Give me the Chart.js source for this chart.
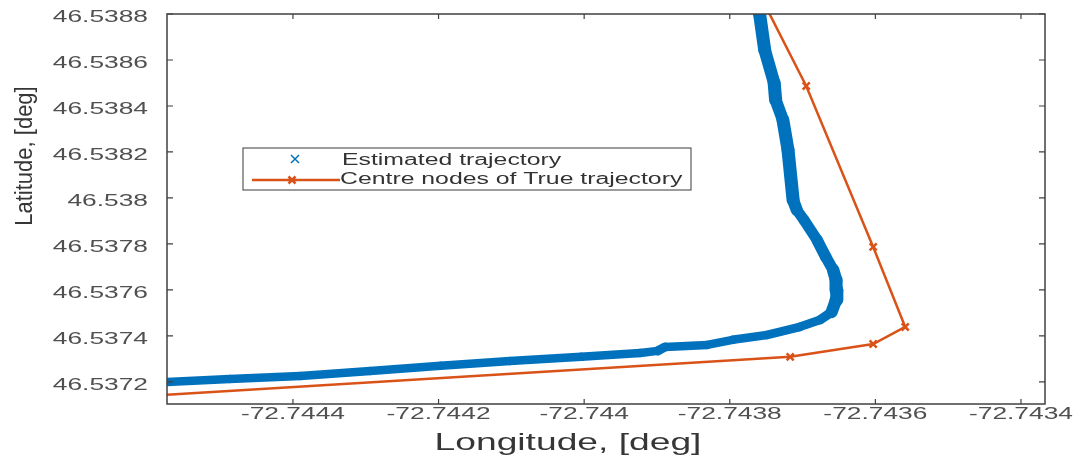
<!DOCTYPE html>
<html>
<head>
<meta charset="utf-8">
<title>Estimated trajectory vs true trajectory</title>
<script src="https://cdn.jsdelivr.net/npm/chart.js@4.4.1/dist/chart.umd.min.js"></script>
<style>
  html, body { margin: 0; padding: 0; background: #ffffff; }
  #wrap { width: 1086px; height: 464px; }
</style>
</head>
<body>
<div id="wrap"><canvas id="trajChart" width="1086" height="464"></canvas></div>
<script>
// Estimated trajectory (blue band), in degrees
const estLon = [
  -72.744573, -72.744487, -72.744390, -72.744294, -72.744197, -72.744102,
  -72.744004, -72.743923, -72.743899, -72.743889, -72.743831, -72.743796,
  -72.743749, -72.743704, -72.743676, -72.743660, -72.743654, -72.743653,
  -72.743654, -72.743658, -72.743668, -72.743680, -72.743698, -72.743708,
  -72.743713, -72.743720, -72.743727, -72.743737, -72.743739, -72.743752,
  -72.743759, -72.743763
];
const estLat = [
  46.537200, 46.537213, 46.537226, 46.537248, 46.537270, 46.537291,
  46.537309, 46.537326, 46.537335, 46.537352, 46.537361, 46.537383,
  46.537404, 46.537439, 46.537470, 46.537504, 46.537557, 46.537600,
  46.537643, 46.537687, 46.537743, 46.537817, 46.537904, 46.537948,
  46.537991, 46.538209, 46.538339, 46.538426, 46.538500, 46.538643,
  46.538800, 46.538883
];

// Centre nodes of the true trajectory (orange)
const nodeLon = [-72.743763, -72.743695, -72.743603, -72.743559, -72.743603, -72.743717, -72.744665];
const nodeLat = [46.538910, 46.538487, 46.537787, 46.537439, 46.537365, 46.537309, 46.537126];

// Axes
const xTicks = [-72.7444, -72.7442, -72.7440, -72.7438, -72.7436, -72.7434];
const xTickLabels = ['-72.7444', '-72.7442', '-72.744', '-72.7438', '-72.7436', '-72.7434'];
const yTicks = [46.5372, 46.5374, 46.5376, 46.5378, 46.5380, 46.5382, 46.5384, 46.5386, 46.5388];
const yTickLabels = ['46.5372', '46.5374', '46.5376', '46.5378', '46.538', '46.5382', '46.5384', '46.5386', '46.5388'];
const xLimits = [-72.744573, -72.743367];
const yLimits = [46.537104, 46.5388];

const seriesNames = ['Estimated trajectory', 'Centre nodes of True trajectory'];
const xTitle = 'Longitude, [deg]';
const yTitle = 'Latitude, [deg]';

const BLUE = '#0072BD';
const ORANGE = '#D95319';
const FONT = '"Liberation Sans", Arial, Helvetica, sans-serif';
const SX = 1.55; // the source figure is stretched sideways
const BAND = 8.5; // blue marker band thickness before the stretch

function toPoints(lons, lats) {
  return lons.map((lon, i) => ({ x: lon, y: lats[i] }));
}

// band of x markers gets wider where the path runs up and down
function bandWidth(seg) {
  const dx = seg.p1.x - seg.p0.x, dy = seg.p1.y - seg.p0.y;
  const len = Math.hypot(dx, dy) || 1;
  const c = dx / len, s = dy / len;
  return BAND * SX / Math.sqrt(SX * SX * c * c + s * s);
}

// text drawn with the same sideways stretch as the picture
function wideText(ctx, text, x, y, align) {
  ctx.save();
  ctx.translate(x, y);
  ctx.scale(SX, 1);
  ctx.textAlign = align;
  ctx.fillText(text, 0, 0);
  ctx.restore();
}

function drawCross(ctx, x, y, r, color, w) {
  ctx.save();
  ctx.strokeStyle = color;
  ctx.lineWidth = w;
  ctx.beginPath();
  ctx.moveTo(x - r, y - r); ctx.lineTo(x + r, y + r);
  ctx.moveTo(x - r, y + r); ctx.lineTo(x + r, y - r);
  ctx.stroke();
  ctx.restore();
}

// MATLAB style box, inward ticks, labels and legend
const matlabAxes = {
  id: 'matlabAxes',
  afterDraw(chart) {
    const { ctx, chartArea: a, scales } = chart;
    const xs = scales.x, ys = scales.y;
    ctx.save();

    ctx.strokeStyle = '#404040';
    ctx.lineWidth = 1.5;
    ctx.strokeRect(a.left, a.top, a.right - a.left, a.bottom - a.top);

    ctx.lineWidth = 1.2;
    ctx.beginPath();
    xTicks.forEach(v => {
      const px = xs.getPixelForValue(v);
      ctx.moveTo(px, a.bottom); ctx.lineTo(px, a.bottom - 5);
      ctx.moveTo(px, a.top); ctx.lineTo(px, a.top + 5);
    });
    yTicks.forEach(v => {
      const py = ys.getPixelForValue(v);
      ctx.moveTo(a.left, py); ctx.lineTo(a.left + 6, py);
      ctx.moveTo(a.right, py); ctx.lineTo(a.right - 6, py);
    });
    ctx.stroke();

    // tick labels
    ctx.fillStyle = '#505050';
    ctx.font = '17px ' + FONT;
    ctx.textBaseline = 'middle';
    xTicks.forEach((v, i) => wideText(ctx, xTickLabels[i], xs.getPixelForValue(v), a.bottom + 10, 'center'));
    yTicks.forEach((v, i) => wideText(ctx, yTickLabels[i], a.left - 19, ys.getPixelForValue(v) + 3, 'right'));

    // axis titles
    ctx.fillStyle = '#363636';
    ctx.font = '24px ' + FONT;
    wideText(ctx, xTitle, a.left + 401, a.bottom + 39, 'center');
    ctx.save();
    ctx.translate(25, 156);
    ctx.rotate(-Math.PI / 2);
    ctx.scale(1, 1.1);
    ctx.font = '22px ' + FONT;
    ctx.textAlign = 'center';
    ctx.fillText(yTitle, 0, 0);
    ctx.restore();

    // legend
    const lx = 243, ly = 148, lw = 448, lh = 42;
    ctx.fillStyle = '#ffffff';
    ctx.fillRect(lx, ly, lw, lh);
    ctx.strokeStyle = '#3a3a3a';
    ctx.lineWidth = 1;
    ctx.strokeRect(lx, ly, lw, lh);
    drawCross(ctx, lx + 52, ly + 11, 4, BLUE, 1.5);
    ctx.strokeStyle = ORANGE;
    ctx.lineWidth = 2.5;
    ctx.beginPath();
    ctx.moveTo(lx + 9, ly + 32); ctx.lineTo(lx + 97, ly + 32);
    ctx.stroke();
    drawCross(ctx, lx + 49, ly + 32, 3.5, ORANGE, 2.5);
    ctx.fillStyle = '#333333';
    ctx.font = '16px ' + FONT;
    wideText(ctx, seriesNames[0], lx + 99, ly + 13, 'left');
    wideText(ctx, seriesNames[1], lx + 97, ly + 32, 'left');

    ctx.restore();
  }
};

new Chart(document.getElementById('trajChart'), {
  type: 'scatter',
  data: {
    datasets: [
      {
        label: seriesNames[0],
        data: toPoints(estLon, estLat),
        showLine: true,
        borderColor: BLUE,
        borderWidth: BAND,
        borderJoinStyle: 'round',
        borderCapStyle: 'round',
        segment: { borderWidth: bandWidth },
        pointStyle: 'crossRot',
        pointRadius: 0,
        pointBorderColor: BLUE
      },
      {
        label: seriesNames[1],
        data: toPoints(nodeLon, nodeLat),
        showLine: true,
        borderColor: ORANGE,
        borderWidth: 2.5,
        pointStyle: 'crossRot',
        pointRadius: 5,
        pointBorderWidth: 2.5,
        pointBorderColor: ORANGE,
        pointBackgroundColor: ORANGE
      }
    ]
  },
  options: {
    responsive: false,
    animation: false,
    devicePixelRatio: 1,
    layout: { padding: { left: 167, top: 14, right: 41, bottom: 60 } },
    plugins: {
      legend: { display: false },
      tooltip: { enabled: false }
    },
    scales: {
      x: { type: 'linear', min: xLimits[0], max: xLimits[1], display: false },
      y: { type: 'linear', min: yLimits[0], max: yLimits[1], display: false }
    }
  },
  plugins: [matlabAxes]
});
</script>
</body>
</html>
